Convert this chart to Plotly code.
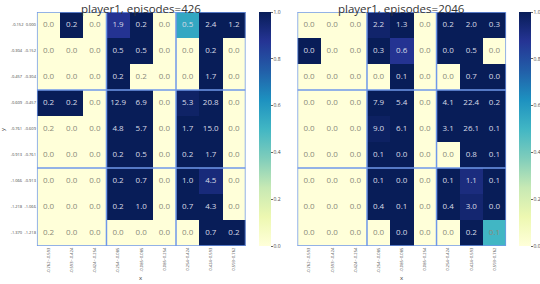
import plotly.graph_objects as go

x_labels = ["-0.762~-0.593", "-0.593~-0.424", "-0.424~-0.254", "-0.254~-0.085",
            "-0.085~0.085", "0.085~0.254", "0.254~0.424", "0.424~0.593", "0.593~0.762"]
y_labels = ["-0.152~0.000", "-0.304~-0.152", "-0.457~-0.304", "-0.609~-0.457",
            "-0.761~-0.609", "-0.913~-0.761", "-1.066~-0.913", "-1.218~-1.066", "-1.370~-1.218"]

titles = ["player1, episodes=426", "player1, episodes=2046"]

left_pct = [
    [0.0, 0.2, 0.0, 1.9, 0.2, 0.0, 0.5, 2.4, 1.2],
    [0.0, 0.0, 0.0, 0.5, 0.5, 0.0, 0.0, 0.2, 0.0],
    [0.0, 0.0, 0.0, 0.2, 0.2, 0.0, 0.0, 1.7, 0.0],
    [0.2, 0.2, 0.0, 12.9, 6.9, 0.0, 5.3, 20.8, 0.0],
    [0.2, 0.0, 0.0, 4.8, 5.7, 0.0, 1.7, 15.0, 0.0],
    [0.0, 0.0, 0.0, 0.2, 0.5, 0.0, 0.2, 1.7, 0.0],
    [0.0, 0.0, 0.0, 0.2, 0.7, 0.0, 1.0, 4.5, 0.0],
    [0.0, 0.0, 0.0, 0.2, 1.0, 0.0, 0.7, 4.3, 0.0],
    [0.2, 0.0, 0.0, 0.0, 0.0, 0.0, 0.0, 0.7, 0.2],
]
left_val = [
    [0, 1, 0, 0.88, 1, 0, 0.55, 1, 1],
    [0, 0, 0, 1, 1, 0, 0, 1, 0],
    [0, 0, 0, 1, 0, 0, 0, 1, 0],
    [1, 1, 0, 1, 1, 0, 0.97, 1, 0],
    [0, 0, 0, 1, 1, 0, 1, 1, 0],
    [0, 0, 0, 1, 1, 0, 1, 1, 0],
    [0, 0, 0, 1, 1, 0, 1, 0.93, 0],
    [0, 0, 0, 1, 1, 0, 1, 1, 0],
    [0, 0, 0, 0, 0, 0, 0, 1, 1],
]
right_pct = [
    [0.0, 0.0, 0.0, 2.2, 1.3, 0.0, 0.2, 2.0, 0.3],
    [0.0, 0.0, 0.0, 0.3, 0.6, 0.0, 0.0, 0.5, 0.0],
    [0.0, 0.0, 0.0, 0.0, 0.1, 0.0, 0.0, 0.7, 0.0],
    [0.0, 0.0, 0.0, 7.9, 5.4, 0.0, 4.1, 22.4, 0.2],
    [0.0, 0.0, 0.0, 9.0, 6.1, 0.0, 3.1, 26.1, 0.1],
    [0.0, 0.0, 0.0, 0.1, 0.0, 0.0, 0.0, 0.8, 0.1],
    [0.0, 0.0, 0.0, 0.1, 0.0, 0.0, 0.1, 1.1, 0.1],
    [0.0, 0.0, 0.0, 0.4, 0.1, 0.0, 0.4, 3.0, 0.0],
    [0.0, 0.0, 0.0, 0.0, 0.0, 0.0, 0.0, 0.2, 0.1],
]
right_val = [
    [0, 0, 0, 0.96, 1, 0, 1, 1, 1],
    [1, 0, 0, 1, 0.88, 0, 1, 1, 0],
    [0, 0, 0, 0, 1, 0, 0, 1, 1],
    [0, 0, 0, 1, 1, 0, 1, 1, 1],
    [0, 0, 0, 0.98, 1, 0, 1, 1, 1],
    [0, 0, 0, 1, 1, 0, 0, 1, 1],
    [0, 0, 0, 1, 1, 0, 1, 0.92, 1],
    [0, 0, 0, 1, 1, 0, 1, 0.95, 1],
    [0, 0, 0, 0, 1, 0, 0, 1, 0.5],
]

W, H = 540, 284
n = len(x_labels)
block = 3
idx = list(range(n))

x_domains = [[37 / W, 246 / W], [298 / W, 507 / W]]
y_domain = [(H - 246) / H, (H - 12) / H]
cb_x = [259 / W, 519 / W]

fig = go.Figure()
datasets = [(left_val, left_pct), (right_val, right_pct)]
for i, (vals, pcts) in enumerate(datasets):
    xa = "x" if i == 0 else "x2"
    ya = "y" if i == 0 else "y2"
    fig.add_trace(go.Heatmap(
        z=vals, x=idx, y=idx,
        colorscale="YlGnBu", zmin=0, zmax=1,
        xaxis=xa, yaxis=ya, hoverinfo="skip",
        colorbar=dict(x=cb_x[i], xanchor="left", y=y_domain[1], yanchor="top",
                      len=y_domain[1] - y_domain[0], lenmode="fraction",
                      thickness=12, outlinewidth=0, ypad=0, xpad=0,
                      tickvals=[0, 0.2, 0.4, 0.6, 0.8, 1.0], tickformat=".1f",
                      ticks="outside", ticklen=2, tickwidth=0.5, tickcolor="#666",
                      tickfont=dict(size=5, color="#444")),
    ))
    # cell labels
    xs, ys, ts, cs = [], [], [], []
    for r in range(n):
        for c in range(n):
            xs.append(c)
            ys.append(r)
            ts.append(f"{pcts[r][c]:.1f}")
            cs.append("#d8dbe6" if vals[r][c] > 0.5 else "#8a8a7a")
    fig.add_trace(go.Scatter(x=xs, y=ys, text=ts, mode="text", xaxis=xa, yaxis=ya,
                             textfont=dict(size=8, color=cs), showlegend=False,
                             hoverinfo="skip"))
    # block grid lines
    for k in range(0, n + 1, block):
        p = k - 0.5
        fig.add_shape(type="line", xref=xa, yref=ya, x0=p, x1=p, y0=-0.5, y1=n - 0.5,
                      line=dict(color="#6f98ea", width=1.5))
        fig.add_shape(type="line", xref=xa, yref=ya, y0=p, y1=p, x0=-0.5, x1=n - 0.5,
                      line=dict(color="#6f98ea", width=1.5))
    fig.add_annotation(text=titles[i], xref="paper", yref="paper",
                       x=sum(x_domains[i]) / 2, y=1, showarrow=False, borderpad=0,
                       font=dict(size=11.5, color="#333"), xanchor="center", yanchor="top")
    fig.add_annotation(text="x", xref="paper", yref="paper",
                       x=sum(x_domains[i]) / 2, y=1 - 278 / H, showarrow=False, borderpad=0,
                       font=dict(size=6, color="#333"), xanchor="center", yanchor="middle")

fig.add_annotation(text="y", xref="paper", yref="paper", x=3 / W, y=1 - 129 / H,
                   showarrow=False, textangle=-90, borderpad=0,
                   font=dict(size=6, color="#333"), xanchor="center", yanchor="middle")

axis_common = dict(showgrid=False, zeroline=False, showline=False)
fig.update_layout(
    width=W, height=H, margin=dict(l=0, r=0, t=0, b=0),
    paper_bgcolor="white", plot_bgcolor="white",
    font=dict(family="Open Sans"),
    xaxis=dict(domain=x_domains[0], range=[-0.5, n - 0.5], tickvals=idx, ticktext=x_labels,
               tickangle=-90, tickfont=dict(size=4, color="#444"), anchor="y", **axis_common),
    yaxis=dict(domain=y_domain, range=[n - 0.5, -0.5], tickvals=idx, ticktext=y_labels,
               tickfont=dict(size=4, color="#444"), anchor="x", **axis_common),
    xaxis2=dict(domain=x_domains[1], range=[-0.5, n - 0.5], tickvals=idx, ticktext=x_labels,
                tickangle=-90, tickfont=dict(size=4, color="#444"), anchor="y2", **axis_common),
    yaxis2=dict(domain=y_domain, range=[n - 0.5, -0.5], tickvals=idx, showticklabels=False,
                anchor="x2", **axis_common),
)

fig.write_html("out.html", config={"displayModeBar": False},
               post_script="document.body.style.margin='0';")
